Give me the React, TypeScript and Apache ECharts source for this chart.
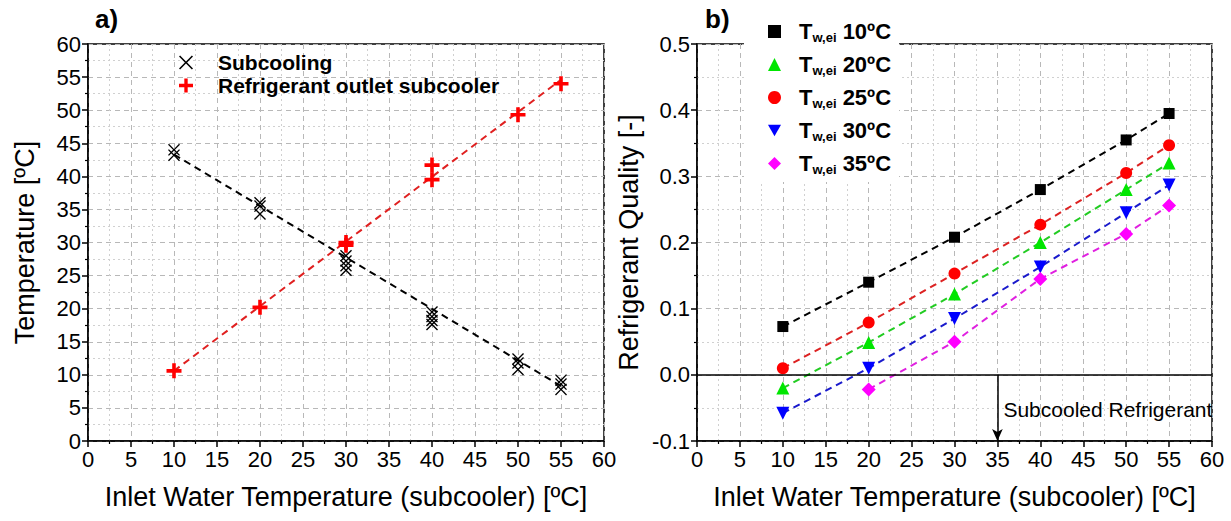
import React, { useEffect, useRef } from "react";
import * as echarts from "echarts";

// ---------- data (a) ----------
const subcooling: [number, number][] = [
  [10, 44], [10, 43.2],
  [20, 36], [20, 35.5], [20, 34.3],
  [30, 28], [30, 27.2], [30, 26.5], [30, 25.8],
  [40, 19.5], [40, 18.8], [40, 18.2], [40, 17.6],
  [50, 12.4], [50, 11.8], [50, 10.8],
  [55, 9.2], [55, 8.6], [55, 7.8],
];
const outletSubcooler: [number, number][] = [
  [10, 10.6], [20, 20.2], [30, 30], [30, 29.6], [40, 41.7], [40, 39.5], [50, 49.3], [55, 54],
];
const subcoolingFit: [number, number][] = [[10, 43.3], [55, 8.3]];
const outletFit: [number, number][] = [[10, 10.6], [55, 54.6]];

// ---------- data (b) ----------
const waterT = [10, 20, 30, 40, 50, 55];
const q10 = [0.073, 0.14, 0.208, 0.28, 0.355, 0.395];
const q20 = [-0.02, 0.049, 0.122, 0.2, 0.28, 0.32];
const q25 = [0.01, 0.079, 0.153, 0.227, 0.305, 0.347];
const q30 = [-0.058, 0.01, 0.085, 0.163, 0.245, 0.287];
const q35 = [null, -0.022, 0.05, 0.145, 0.213, 0.256];

const xTicks = [0, 60, 5];
const leftY = [0, 60, 5];
const rightY = [-0.1, 0.5, 0.1];

const FONT = "Liberation Sans, Arial, sans-serif";
const X_SYM = "path://M0,0.8 L0.8,0 L5,4.2 L9.2,0 L10,0.8 L5.8,5 L10,9.2 L9.2,10 L5,5.8 L0.8,10 L0,9.2 L4.2,5 Z";
const PLUS_SYM = "path://M3.8,0 H6.2 V3.8 H10 V6.2 H6.2 V10 H3.8 V6.2 H0 V3.8 H3.8 Z";
const DOWN_TRI = "path://M0,0 L10,0 L5,9 Z";

function pairs(ys: (number | null)[]) {
  return waterT.map((x, i) => [x, ys[i]]).filter((p) => p[1] !== null);
}

function xAxis(gridIndex: number) {
  return {
    type: "value",
    gridIndex,
    min: xTicks[0],
    max: xTicks[1],
    interval: xTicks[2],
    name: "Inlet Water Temperature (subcooler) [ºC]",
    nameLocation: "middle",
    nameGap: 42,
    nameTextStyle: { fontFamily: FONT, fontSize: 27, color: "#000" },
    axisLine: { onZero: false, lineStyle: { color: "#000", width: 1.5 } },
    axisTick: { length: 6, lineStyle: { color: "#000", width: 1.5 } },
    minorTick: { show: true, splitNumber: 2, length: 3, lineStyle: { color: "#000", width: 1.2 } },
    axisLabel: { fontFamily: FONT, fontSize: 22, color: "#000", margin: 7 },
    splitLine: { show: true, lineStyle: { color: "#b8b8b8", type: [5, 4], width: 1 } },
    minorSplitLine: { show: true, lineStyle: { color: "#d0d0d0", type: [2, 3], width: 1 } },
  };
}

function yAxis(gridIndex: number, cfg: number[], name: string, dec: number) {
  return {
    type: "value",
    gridIndex,
    min: cfg[0],
    max: cfg[1],
    interval: cfg[2],
    name,
    nameLocation: "middle",
    nameGap: dec ? 55 : 50,
    nameTextStyle: { fontFamily: FONT, fontSize: 27, color: "#000" },
    axisLine: { onZero: false, lineStyle: { color: "#000", width: 1.5 } },
    axisTick: { length: 6, lineStyle: { color: "#000", width: 1.5 } },
    minorTick: { show: true, splitNumber: 2, length: 3, lineStyle: { color: "#000", width: 1.2 } },
    axisLabel: {
      fontFamily: FONT, fontSize: 22, color: "#000", margin: 7,
      formatter: (v: number) => (dec ? v.toFixed(1) : String(v)),
    },
    splitLine: { show: true, lineStyle: { color: "#b8b8b8", type: [5, 4], width: 1 } },
    minorSplitLine: { show: true, lineStyle: { color: "#d0d0d0", type: [2, 3], width: 1 } },
  };
}

const rightSeries = [
  { name: "Tw,ei 10ºC", data: q10, color: "#000000", symbol: "rect", size: 11, icon: "rect" },
  { name: "Tw,ei 20ºC", data: q20, color: "#00e600", symbol: "triangle", size: 13, icon: "triangle" },
  { name: "Tw,ei 25ºC", data: q25, color: "#ff0000", symbol: "circle", size: 12, icon: "circle" },
  { name: "Tw,ei 30ºC", data: q30, color: "#0000ff", symbol: DOWN_TRI, size: 13, icon: DOWN_TRI },
  { name: "Tw,ei 35ºC", data: q35, color: "#ff00ff", symbol: "diamond", size: 14, icon: "diamond" },
];
const lineColors: Record<string, string> = {
  "Tw,ei 10ºC": "#000000",
  "Tw,ei 20ºC": "#22cc22",
  "Tw,ei 25ºC": "#dd2222",
  "Tw,ei 30ºC": "#1a1acc",
  "Tw,ei 35ºC": "#e020e0",
};

export default function App() {
  const ref = useRef<HTMLDivElement>(null);
  useEffect(() => {
    if (!ref.current) return;
    const chart = echarts.init(ref.current, null, { renderer: "svg" });
    const option: any = {
      animation: false,
      backgroundColor: "#fff",
      grid: [
        { left: 88, top: 44, width: 516, height: 397, show: true, borderColor: "#000", borderWidth: 1.5, backgroundColor: "transparent" },
        { left: 697, top: 44, width: 515, height: 397, show: true, borderColor: "#000", borderWidth: 1.5, backgroundColor: "transparent" },
      ],
      xAxis: [xAxis(0), xAxis(1)],
      yAxis: [yAxis(0, leftY, "Temperature [ºC]", 0), yAxis(1, rightY, "Refrigerant Quality [-]", 1)],
      title: [
        { text: "a)", left: 95, top: 6, padding: 0, textStyle: { fontFamily: FONT, fontSize: 26, fontWeight: "bold", color: "#000" } },
        { text: "b)", left: 705, top: 6, padding: 0, textStyle: { fontFamily: FONT, fontSize: 26, fontWeight: "bold", color: "#000" } },
      ],
      legend: [
        {
          orient: "vertical",
          left: 179,
          top: 52,
          padding: 0,
          itemGap: 2,
          itemWidth: 14,
          itemHeight: 14,
          textStyle: { fontFamily: FONT, fontSize: 21, fontWeight: "bold", color: "#000", lineHeight: 21, padding: [0, 0, 0, 20] },
          data: [
            { name: "Subcooling", icon: X_SYM },
            { name: "Refrigerant outlet subcooler", icon: PLUS_SYM },
          ],
        },
        {
          orient: "vertical",
          left: 744,
          top: 15,
          itemGap: 8,
          itemWidth: 13,
          itemHeight: 13,
          backgroundColor: "#fff",
          padding: [4, 8, 6, 24],
          z: 10,
          data: rightSeries.map((s) => ({ name: s.name, icon: s.icon })),
          formatter: (name: string) => `{t|T}{s|w,ei}{v| ${name.split(" ")[1]}}`,
          textStyle: {
            color: "#000",
            padding: [0, 0, 0, 13],
            rich: {
              t: { fontFamily: FONT, fontSize: 22, fontWeight: "bold", color: "#000", lineHeight: 26 },
              s: { fontFamily: FONT, fontSize: 13, fontWeight: "bold", color: "#000", lineHeight: 26, padding: [12, 0, 0, 0] },
              v: { fontFamily: FONT, fontSize: 22, fontWeight: "bold", color: "#000", lineHeight: 26 },
            },
          },
        },
      ],
      series: [
        {
          name: "Subcooling fit",
          type: "line",
          xAxisIndex: 0,
          yAxisIndex: 0,
          data: subcoolingFit,
          symbol: "none",
          silent: true,
          lineStyle: { color: "#000", width: 2, type: [7, 5] },
          z: 2,
        },
        {
          name: "Outlet fit",
          type: "line",
          xAxisIndex: 0,
          yAxisIndex: 0,
          data: outletFit,
          symbol: "none",
          silent: true,
          lineStyle: { color: "#e02020", width: 2, type: [7, 5] },
          z: 2,
        },
        {
          name: "Subcooling",
          type: "scatter",
          xAxisIndex: 0,
          yAxisIndex: 0,
          data: subcooling,
          symbol: X_SYM,
          symbolSize: 12,
          itemStyle: { color: "#000", opacity: 1 },
          z: 3,
        },
        {
          name: "Refrigerant outlet subcooler",
          type: "scatter",
          xAxisIndex: 0,
          yAxisIndex: 0,
          data: outletSubcooler,
          symbol: PLUS_SYM,
          symbolSize: 15,
          itemStyle: { color: "#ff0000", opacity: 1 },
          z: 3,
        },
        ...rightSeries.map((s, i) => ({
          name: s.name,
          type: "line",
          xAxisIndex: 1,
          yAxisIndex: 1,
          data: pairs(s.data),
          symbol: s.symbol,
          symbolSize: s.size,
          showAllSymbol: true,
          itemStyle: { color: s.color, opacity: 1 },
          lineStyle: { color: lineColors[s.name], width: 2, type: [7, 5] },
          z: 3,
          ...(i === 0
            ? {
                markLine: {
                  silent: true,
                  symbol: "none",
                  animation: false,
                  label: { show: false },
                  lineStyle: { color: "#000", width: 1.5, type: "solid" },
                  data: [
                    { yAxis: 0 },
                    [
                      { coord: [35, 0], symbol: "none" },
                      { coord: [35, -0.1], symbol: "arrow", symbolSize: [8, 12] },
                    ],
                  ],
                },
                markPoint: {
                  silent: true,
                  symbol: "circle",
                  symbolSize: 0,
                  label: {
                    show: true,
                    position: "right",
                    distance: 6,
                    fontFamily: FONT,
                    fontSize: 21,
                    color: "#000",
                    formatter: "Subcooled Refrigerant",
                  },
                  data: [{ coord: [35, -0.053] }],
                },
              }
            : {}),
        })),
      ],
    };
    chart.setOption(option);
    return () => chart.dispose();
  }, []);
  return (
    <div
      ref={ref}
      style={{ position: "absolute", left: 0, top: 0, width: 1231, height: 521 }}
    />
  );
}
